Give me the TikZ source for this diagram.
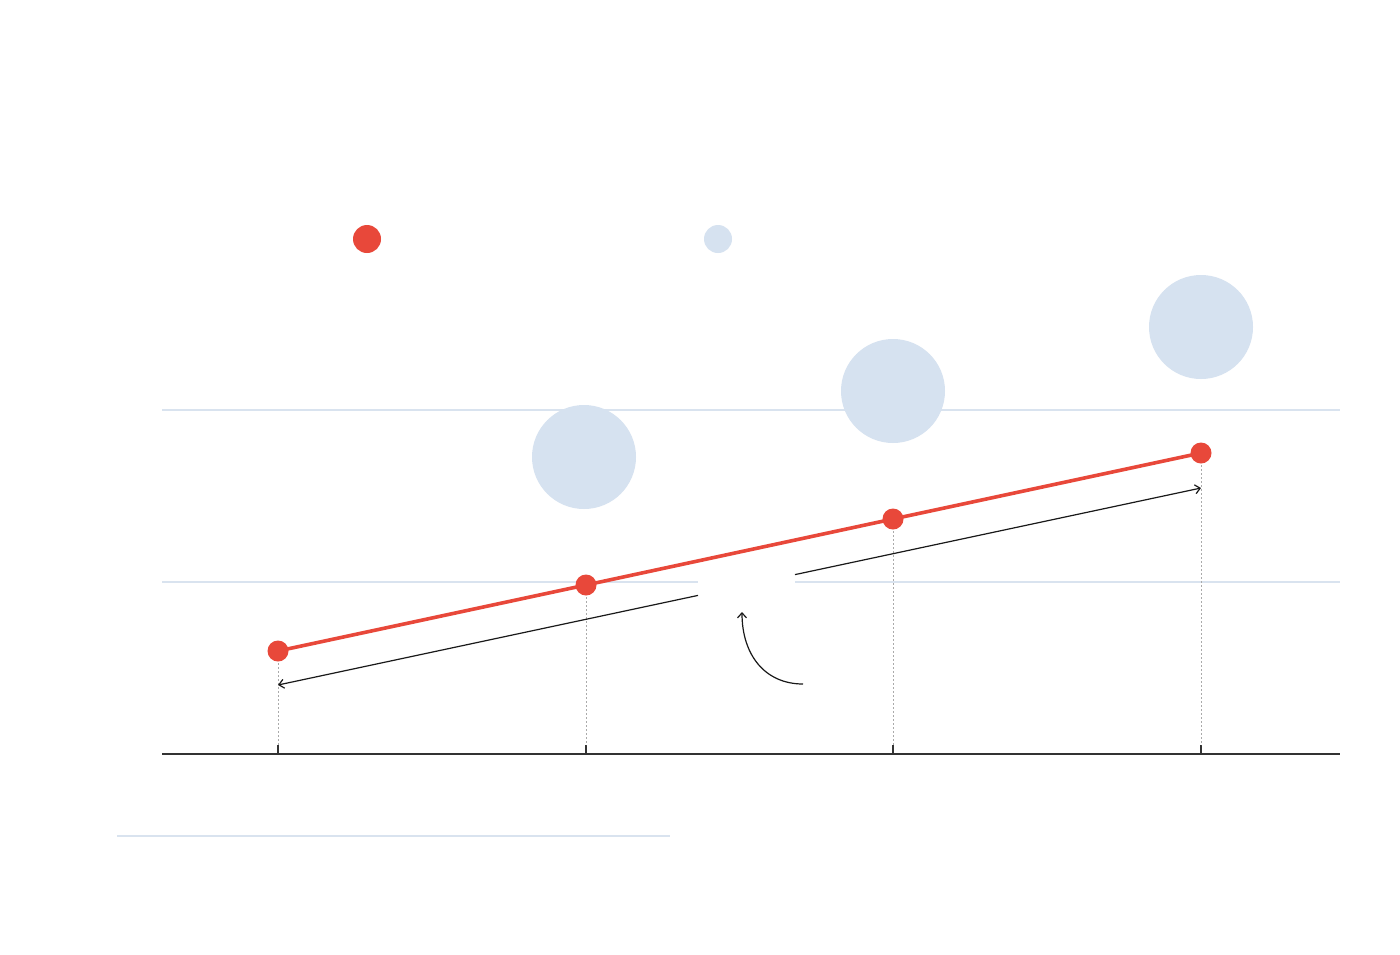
\documentclass[tikz,border=0pt]{standalone}
\usetikzlibrary{arrows.meta}
\definecolor{cred}{HTML}{E8483A}
\definecolor{cblue}{HTML}{D6E2F0}
\definecolor{cgrid}{HTML}{D9E3EF}
\definecolor{caxis}{HTML}{333333}
\definecolor{cdot}{HTML}{AAAAAA}
\tikzset{
  reddot/.style={circle, fill=cred, draw=none, minimum size=21pt, inner sep=0pt},
  legdot/.style={circle, draw=none, minimum size=28pt, inner sep=0pt},
  bubble/.style={circle, fill=cblue, draw=none, minimum size=104pt, inner sep=0pt},
  gridln/.style={draw=cgrid, line width=2pt},
  axisln/.style={draw=caxis, line width=1.3pt},
  guide/.style={draw=cdot, line width=1pt, dash pattern=on 2pt off 2pt},
  trend/.style={draw=cred, line width=3.6pt},
  annot/.style={draw=black!90, line width=1.2pt, -{Straight Barb[length=5pt,width=9pt]}},
}
\begin{document}
\begin{tikzpicture}[x=1pt,y=-1pt]
\useasboundingbox (0,0) rectangle (1400,954);
\fill[white] (0,0) rectangle (1400,954);
% legend
\node[legdot, fill=cred] (legA) at (367,239) {};
\node[legdot, fill=cblue] (legB) at (718,239) {};
% grid lines
\coordinate (g1l) at (162,410); \coordinate (g1r) at (1340,410);
\coordinate (g2l) at (162,582); \coordinate (g2a) at (698,582);
\coordinate (g2b) at (795,582); \coordinate (g2r) at (1340,582);
\draw[gridln] (g1l) -- (g1r);
\draw[gridln] (g2l) -- (g2a);
\draw[gridln] (g2b) -- (g2r);
% axis
\coordinate (axl) at (162,754); \coordinate (axr) at (1340,754);
\draw[axisln] (axl) -- (axr);
% bubbles
\node[bubble] (b2) at (584,457) {};
\node[bubble] (b3) at (893,391) {};
\node[bubble] (b4) at (1201,327) {};
% base coordinates and ticks
\foreach \i/\x in {1/278,2/586,3/893,4/1201}{
  \coordinate (t\i) at (\x,754);
  \coordinate (u\i) at (\x,745);
  \draw[axisln] (t\i) -- (u\i);
}
% points
\coordinate (p1c) at (278,651); \coordinate (p2c) at (586,585);
\coordinate (p3c) at (893,519); \coordinate (p4c) at (1201,453);
\draw[guide] (p1c) -- (u1);
\draw[guide] (p2c) -- (u2);
\draw[guide] (p3c) -- (u3);
\draw[guide] (p4c) -- (u4);
\draw[trend] (p1c) -- (p2c) -- (p3c) -- (p4c);
\node[reddot] (p1) at (p1c) {};
\node[reddot] (p2) at (p2c) {};
\node[reddot] (p3) at (p3c) {};
\node[reddot] (p4) at (p4c) {};
% annotation arrows
\coordinate (aL) at (278,685); \coordinate (aLs) at (698,595.4);
\coordinate (aR) at (1201,488); \coordinate (aRs) at (795,574.6);
\draw[annot] (aLs) -- (aL);
\draw[annot] (aRs) -- (aR);
\coordinate (cS) at (803,684); \coordinate (cE) at (742,612);
\draw[annot] (cS) .. controls (765,684) and (742,655) .. (cE);
% bottom rule
\coordinate (bl) at (117,836); \coordinate (br) at (670,836);
\draw[gridln] (bl) -- (br);
\end{tikzpicture}
\end{document}
